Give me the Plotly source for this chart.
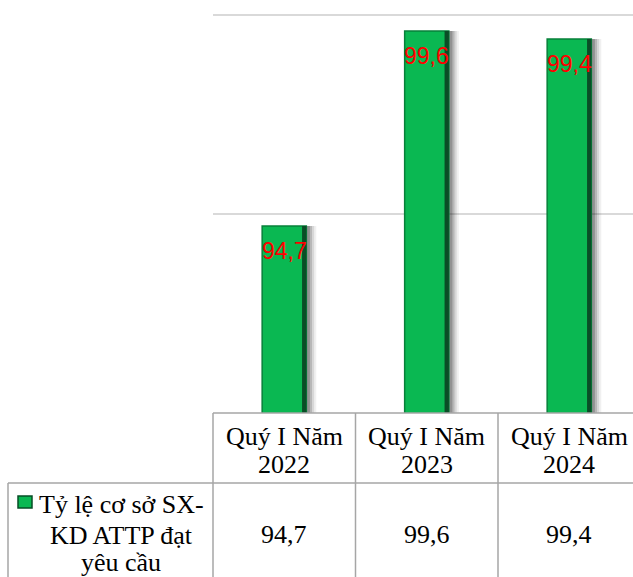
import plotly.graph_objects as go

# ---- data ----
categories = ["Quý I Năm 2022", "Quý I Năm 2023", "Quý I Năm 2024"]
values = [94.7, 99.6, 99.4]
series_name = "Tỷ lệ cơ sở SX-KD ATTP đạt yêu cầu"
series_label_lines = ["Tỷ lệ cơ sở SX-", "KD ATTP đạt", "yêu cầu"]
y_min, y_max, y_step = 90, 100, 5

W, H = 633, 577
PLOT_L, PLOT_B = 213, 413
PX_PER_UNIT = 39.8
Y_TOP = 100.25
PLOT_T = PLOT_B - (Y_TOP - y_min) * PX_PER_UNIT
CAT_W = 142.5
BAR_W = 0.31

def fx(p):
    return p / W

def fy(p):
    return 1 - p / H

def fmt(v):
    return f"{v:.1f}".replace(".", ",")

fig = go.Figure()

# soft drop shadow (layers for a fade)
for off, alpha in [(0.07, 0.06), (0.055, 0.10), (0.04, 0.15), (0.025, 0.2)]:
    fig.add_trace(go.Bar(
        x=categories, y=values, width=BAR_W, offset=-BAR_W / 2 + off,
        marker=dict(color=f"rgba(0,0,0,{alpha})", line=dict(width=0)),
        hoverinfo="skip", showlegend=False,
    ))

# main bars
fig.add_trace(go.Bar(
    x=categories, y=values, name=series_name, width=BAR_W, offset=-BAR_W / 2,
    marker=dict(color="#0ab852", line=dict(color="#07803a", width=1.5)),
    showlegend=False,
))
# dark bevel on right edge
fig.add_trace(go.Bar(
    x=categories, y=values, width=0.03, offset=BAR_W / 2 - 0.03,
    marker=dict(color="#0a4d26", line=dict(width=0)),
    hoverinfo="skip", showlegend=False,
))

annotations = []
# data labels
for c, v in zip(categories, values):
    annotations.append(dict(
        x=c, y=v, xref="x", yref="y", text=fmt(v), showarrow=False,
        yanchor="middle", yshift=-25,
        font=dict(family="Liberation Sans, Arial", size=23, color="#ff0000"),
    ))

serif = dict(family="Liberation Serif, Times New Roman", size=26, color="#000000")

# data table header (category labels, two lines)
for c in categories:
    first, second = c.rsplit(" ", 1)
    for text, ypx in [(first, 436), (second, 464)]:
        annotations.append(dict(
            x=c, y=fy(ypx), xref="x", yref="paper", text=text, showarrow=False,
            yanchor="middle", font=serif,
        ))

# data table values
for c, v in zip(categories, values):
    annotations.append(dict(
        x=c, y=fy(534), xref="x", yref="paper", text=fmt(v), showarrow=False,
        yanchor="middle", font=serif,
    ))

# series label in table
for text, ypx in zip(series_label_lines, [504, 535, 562]):
    annotations.append(dict(
        x=fx(121), y=fy(ypx), xref="paper", yref="paper", text=text,
        showarrow=False, xanchor="center", yanchor="middle", font=serif,
    ))

line_col = "#a6a6a6"
shapes = []
def hline(x0, x1, y):
    shapes.append(dict(type="line", xref="paper", yref="paper",
                       x0=fx(x0), x1=fx(x1), y0=fy(y), y1=fy(y),
                       line=dict(color=line_col, width=1.5)))
def vline(x, y0, y1):
    shapes.append(dict(type="line", xref="paper", yref="paper",
                       x0=fx(x), x1=fx(x), y0=fy(y0), y1=fy(y1),
                       line=dict(color=line_col, width=1.5)))

hline(PLOT_L, W, PLOT_B)
hline(8, W, 483)
vline(8, 483, H)
for i in range(len(categories)):
    vline(PLOT_L + i * CAT_W, PLOT_B, H)

# legend key
shapes.append(dict(type="rect", xref="paper", yref="paper",
                   x0=fx(18), x1=fx(32), y0=fy(508), y1=fy(496),
                   fillcolor="#0ab852", line=dict(color="#064d26", width=1.5)))

fig.update_layout(
    width=W, height=H,
    margin=dict(l=0, r=0, t=0, b=0),
    paper_bgcolor="white", plot_bgcolor="white",
    barmode="overlay", showlegend=False,
    xaxis=dict(domain=[fx(PLOT_L), 1], range=[-0.5, -0.5 + (W - PLOT_L) / CAT_W],
               showticklabels=False, showgrid=False, zeroline=False, showline=False,
               ticks=""),
    yaxis=dict(domain=[fy(PLOT_B), fy(PLOT_T)], range=[y_min, Y_TOP],
               tickvals=list(range(y_min, y_max + 1, y_step)),
               showticklabels=False, showgrid=True, gridcolor="#d9d9d9",
               gridwidth=1.5, zeroline=False, showline=False, ticks=""),
    annotations=annotations, shapes=shapes,
)

fig.write_html("out.html", config={"displayModeBar": False},
               post_script="document.body.style.margin='0px';document.body.style.overflow='hidden';")
